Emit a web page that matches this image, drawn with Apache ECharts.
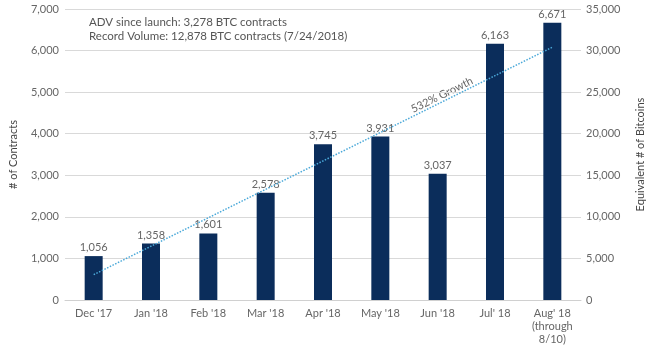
<!DOCTYPE html>
<html>
<head>
<meta charset="utf-8">
<script src="https://cdn.jsdelivr.net/npm/echarts@6/dist/echarts.min.js"></script>
<style>
html,body{margin:0;padding:0;background:#fff;}
#chart{width:654px;height:346px;}
</style>
</head>
<body>
<div id="chart"></div>
<script>
var categories = ["Dec '17", "Jan '18", "Feb '18", "Mar '18", "Apr '18", "May '18", "Jun '18", "Jul' 18", "Aug' 18\n(through\n8/10)"];
var contracts = [1056, 1358, 1601, 2578, 3745, 3931, 3037, 6163, 6671];
var trendStart = 610;
var trendEnd = 6080;
var leftTicks = {min: 0, max: 7000, interval: 1000};
var rightTicks = {min: 0, max: 35000, interval: 5000};
var notes = ["ADV since launch: 3,278 BTC contracts", "Record Volume: 12,878 BTC contracts (7/24/2018)"];
var growthLabel = "532% Growth";

var trend = categories.map(function (c, i) {
  if (i === 0) return trendStart;
  if (i === categories.length - 1) return trendEnd;
  return null;
});

var FONT = 'Lato';
var GRAY = '#666';

var chart = echarts.init(document.getElementById('chart'));
chart.setOption({
  animation: false,
  textStyle: {fontFamily: FONT},
  grid: {left: 65, right: 68, top: 9, bottom: 46},
  xAxis: {
    type: 'category',
    data: categories,
    axisLine: {lineStyle: {color: '#d0d0d0', width: 1}},
    axisTick: {show: false},
    axisLabel: {color: GRAY, fontSize: 11, fontFamily: FONT, margin: 7, lineHeight: 13, interval: 0}
  },
  yAxis: [{
    type: 'value',
    min: leftTicks.min, max: leftTicks.max, interval: leftTicks.interval,
    name: '# of Contracts',
    nameLocation: 'middle',
    nameGap: 46,
    nameTextStyle: {color: '#444', fontSize: 11, fontFamily: FONT},
    axisLine: {show: false},
    axisTick: {show: false},
    axisLabel: {color: GRAY, fontSize: 11, fontFamily: FONT, margin: 6,
      formatter: function (v) { return v.toLocaleString('en-US'); }},
    splitLine: {lineStyle: {color: '#d9d9d9', width: 1}}
  }, {
    type: 'value',
    min: rightTicks.min, max: rightTicks.max, interval: rightTicks.interval,
    name: 'Equivalent # of Bitcoins',
    nameLocation: 'middle',
    nameGap: 54,
    nameTextStyle: {color: '#444', fontSize: 11, fontFamily: FONT},
    axisLine: {show: false},
    axisTick: {show: false},
    axisLabel: {color: GRAY, fontSize: 11, fontFamily: FONT, margin: 5,
      formatter: function (v) { return v.toLocaleString('en-US'); }},
    splitLine: {show: false}
  }],
  series: [{
    type: 'bar',
    data: contracts,
    barWidth: 18,
    itemStyle: {color: '#0b2d5b'},
    label: {show: true, position: 'top', distance: 3, color: GRAY, fontSize: 11, fontFamily: FONT,
      formatter: function (p) { return p.value.toLocaleString('en-US'); }},
    z: 2
  }, {
    type: 'line',
    data: trend,
    connectNulls: true,
    symbol: 'none',
    lineStyle: {color: '#4ba9d9', width: 1.5, type: [1.5, 1.5]},
    z: 3
  }],
  graphic: [{
    type: 'text', left: 89, top: 16,
    style: {text: notes[0], fill: '#555', font: '11.5px ' + FONT}
  }, {
    type: 'text', left: 89, top: 30,
    style: {text: notes[1], fill: '#555', font: '11.5px ' + FONT}
  }, {
    type: 'text',
    x: 442, y: 95,
    rotation: 26.2 * Math.PI / 180,
    style: {text: growthLabel, fill: '#666', font: '11px ' + FONT, align: 'center', verticalAlign: 'middle'}
  }]
});
</script>
</body>
</html>
